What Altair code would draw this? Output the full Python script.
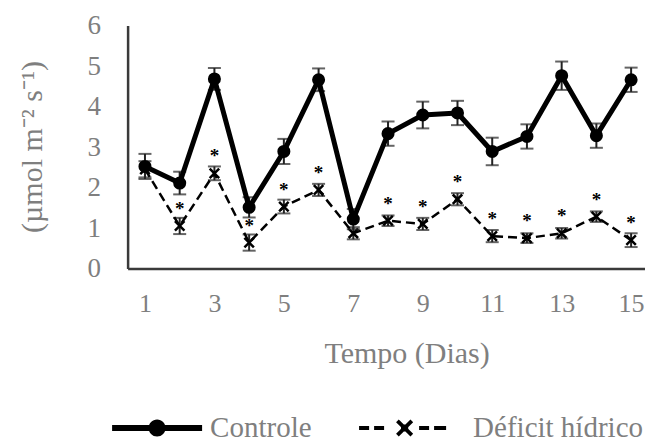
import altair as alt
import pandas as pd

# ---- data ----
dias = list(range(1, 16))
controle = [2.52, 2.11, 4.68, 1.51, 2.89, 4.66, 1.22, 3.33, 3.79, 3.84, 2.89, 3.26, 4.76, 3.28, 4.66]
controle_erro = [0.31, 0.28, 0.27, 0.25, 0.31, 0.28, 0.25, 0.30, 0.33, 0.30, 0.34, 0.30, 0.35, 0.30, 0.30]
deficit = [2.45, 1.05, 2.35, 0.64, 1.53, 1.94, 0.87, 1.18, 1.10, 1.71, 0.80, 0.75, 0.87, 1.28, 0.70]
deficit_erro = [0.20, 0.20, 0.17, 0.20, 0.17, 0.15, 0.15, 0.13, 0.15, 0.15, 0.15, 0.12, 0.13, 0.13, 0.17]
significativo = [False, True, True, True, True, True, False, True, True, True, True, True, True, True, True]
series = ["Controle", "Déficit hídrico"]
x_ticks = [1, 3, 5, 7, 9, 11, 13, 15]
y_ticks = [0, 1, 2, 3, 4, 5, 6]

rows = []
for i, d in enumerate(dias):
    rows.append(dict(dia=d, valor=controle[i], lo=controle[i] - controle_erro[i],
                     hi=controle[i] + controle_erro[i], serie=series[0], sig=False))
    rows.append(dict(dia=d, valor=deficit[i], lo=deficit[i] - deficit_erro[i],
                     hi=deficit[i] + deficit_erro[i], serie=series[1], sig=significativo[i]))
df = pd.DataFrame(rows)

FONT = "Liberation Serif"
GRAY = "#7f7f7f"

xscale = alt.Scale(domain=[0.5, 15.4], nice=False, zero=False)
yscale = alt.Scale(domain=[0, 6], nice=False)

xaxis = alt.Axis(values=x_ticks, title="Tempo (Dias)", grid=False, ticks=False,
                 domainColor="#3a3a3a", domainWidth=2.5,
                 labelFont=FONT, labelFontSize=26, labelColor=GRAY, labelPadding=22,
                 titleFont=FONT, titleFontSize=30, titleColor=GRAY, titleFontWeight="normal",
                 titleX=279, titleY=94, titleBaseline="alphabetic", titleAlign="center")
yaxis = alt.Axis(values=y_ticks, title="(µmol m⁻² s⁻¹)", grid=False, ticks=False,
                 domainColor="#3a3a3a", domainWidth=2.5,
                 labelFont=FONT, labelFontSize=27, labelColor=GRAY, labelPadding=27,
                 titleFont=FONT, titleFontSize=30, titleColor=GRAY, titleFontWeight="normal",
                 titleAngle=270, titleX=-95, titleY=121, titleBaseline="middle", titleAlign="center")

X = alt.X("dia:Q", scale=xscale, axis=xaxis)
Y = alt.Y("valor:Q", scale=yscale, axis=yaxis)

base = alt.Chart(df)
ctrl = base.transform_filter(alt.datum.serie == series[0])
defi = base.transform_filter(alt.datum.serie == series[1])

def errbars(src, color):
    rule = src.mark_rule(color=color, strokeWidth=2).encode(
        x=X, y=alt.Y("lo:Q", scale=yscale, axis=yaxis), y2="hi:Q")
    cap_lo = src.mark_tick(color=color, orient="horizontal", size=13, thickness=2).encode(
        x=X, y=alt.Y("lo:Q", scale=yscale, axis=yaxis))
    cap_hi = src.mark_tick(color=color, orient="horizontal", size=13, thickness=2).encode(
        x=X, y=alt.Y("hi:Q", scale=yscale, axis=yaxis))
    return [rule, cap_lo, cap_hi]

defi_line = defi.mark_line(color="black", strokeWidth=2.5, strokeDash=[9, 5]).encode(x=X, y=Y)
defi_pts = defi.mark_point(shape="M-1,-1L1,1M1,-1L-1,1", filled=False, size=90,
                           strokeWidth=2.5, color="black", opacity=1).encode(x=X, y=Y)
stars = defi.transform_filter(alt.datum.sig).mark_text(
    text="*", font=FONT, fontSize=19, fontWeight="bold", color="black",
    baseline="alphabetic", dy=-11).encode(x=X, y=Y)

ctrl_line = ctrl.mark_line(color="black", strokeWidth=5, strokeJoin="round").encode(x=X, y=Y)
ctrl_pts = ctrl.mark_point(shape="circle", filled=True, size=170, color="black",
                           opacity=1).encode(x=X, y=Y)

# legend symbols (custom paths)
path_ctrl = ("M-1,-0.067H1V0.067H-1Z "
             "M0.19,0A0.19,0.19 0 1,1 -0.19,0A0.19,0.19 0 1,1 0.19,0Z")
cx, h, t = -0.344, 0.19, 0.06
path_def = (
    "M-1.356,-0.045H-1.133V0.045H-1.356Z "
    "M-1.022,-0.045H-0.8V0.045H-1.022Z "
    f"M{cx-h+t},{-h}L{cx+h},{h-t}L{cx+h-t},{h}L{cx-h},{-h+t}Z "
    f"M{cx+h-t},{-h}L{cx+h},{-h+t}L{cx-h+t},{h}L{cx-h},{h-t}Z "
    f"M{cx-0.08},{-0.08}H{cx+0.08}V0.08H{cx-0.08}Z "
    "M-0.022,-0.045H0.2V0.045H-0.022Z "
    "M0.311,-0.045H0.578V0.045H0.311Z"
)

legend_layer = base.mark_point(filled=True, opacity=0, color="black").encode(
    x=X, y=Y,
    shape=alt.Shape("serie:N", scale=alt.Scale(domain=series, range=[path_ctrl, path_def]),
                    legend=alt.Legend(title=None, orient="none", legendX=-15.5, legendY=357.5,
                                      direction="horizontal", symbolSize=8100,
                                      symbolFillColor="black", symbolStrokeColor="black",
                                      symbolStrokeWidth=0, symbolOpacity=1,
                                      labelFont=FONT, labelFontSize=29, labelColor=GRAY,
                                      labelLimit=400,
                                      labelOffset=8, columnPadding=46, padding=0)))

layers = errbars(defi, "#222222") + [defi_line, defi_pts, stars] + \
    errbars(ctrl, "#222222") + [ctrl_line, ctrl_pts, legend_layer]

chart = alt.layer(*layers).properties(
    width=517.4, height=243,
    padding={"left": 119.6, "top": 17.5, "right": 0, "bottom": 175},
    autosize="none",
    background="white",
).configure(font=FONT).configure_view(stroke=None).configure_legend(
    labelFont=FONT, labelFontSize=29, labelColor=GRAY, labelLimit=400
)

chart.save("out.html", embed_options={"renderer": "svg", "actions": False})
